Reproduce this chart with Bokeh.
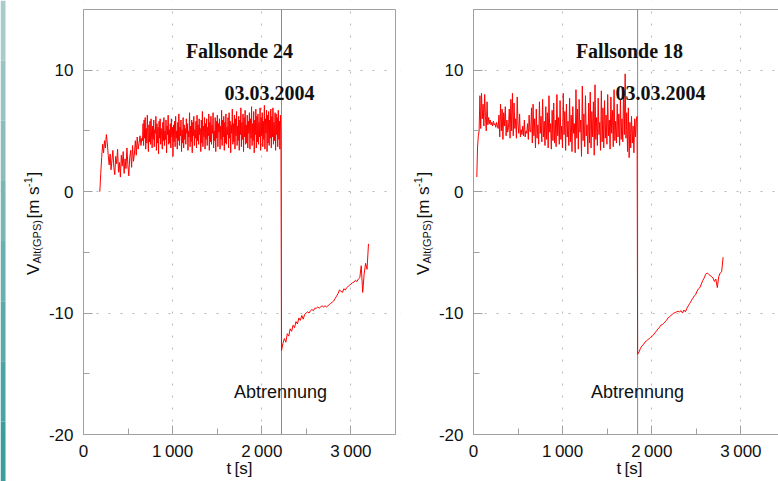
import numpy as np
from bokeh.plotting import figure
from bokeh.layouts import row
from bokeh.models import Label, Range1d, FixedTicker
from bokeh.core.properties import value
from bokeh.embed import file_html
from bokeh.resources import INLINE

# ---------------- data: Fallsonde 24 ----------------
f24_start_t = [183, 655]
f24_start_v = [0.0, 1.5, 2.8, 3.9, 3.2, 4.2, 3.6, 4.7, 4.0, 3.0, 2.2, 3.1, 1.8, 2.6,
               3.4, 2.0, 1.4, 2.9, 2.3, 3.5, 1.6, 2.4, 1.2, 3.0, 2.1, 3.3, 1.5, 2.7,
               1.9, 3.6, 2.2, 1.3, 2.8, 3.4, 2.0, 3.8, 2.5, 3.1, 4.2, 3.0, 4.5, 3.5,
               4.0, 4.6, 3.8, 4.4]
f24_band_t = [662, 2215]
f24_band_v = [
    4.2, 5.6, 3.8, 5.9, 4.4, 6.1, 3.5, 5.2, 4.0, 6.3, 4.6, 3.3, 5.5, 4.1, 5.8, 3.9, 6.0, 4.5, 3.6, 5.4,
    4.3, 5.9, 3.7, 5.1, 4.8, 6.2, 3.4, 5.6, 4.0, 5.3, 3.1, 5.8, 4.4, 6.0, 3.9, 5.2, 4.6, 3.5, 5.7, 4.2,
    6.1, 3.8, 5.0, 4.3, 5.9, 3.2, 5.4, 4.7, 6.3, 3.9, 5.1, 4.0, 5.6, 3.6, 6.0, 4.5, 5.3, 2.9, 5.5, 4.1,
    5.8, 3.7, 6.2, 4.4, 5.0, 3.5, 5.7, 4.2, 6.4, 3.8, 5.3, 4.6, 5.9, 3.3, 5.1, 4.0, 6.1, 3.6, 5.5, 4.3,
    5.2, 3.9, 6.0, 4.8, 5.6, 3.4, 5.0, 4.5, 6.5, 3.7, 5.4, 4.1, 5.9, 3.2, 5.7, 4.6, 6.2, 3.8, 5.1, 4.4,
    5.8, 3.6, 6.3, 4.2, 5.5, 3.9, 6.0, 4.7, 5.2, 3.3, 5.9, 4.0, 6.6, 3.7, 5.4, 4.5, 6.1, 3.5, 5.6, 4.3,
    6.0, 3.8, 5.3, 4.6, 6.4, 3.4, 5.7, 4.1, 6.2, 3.9, 5.5, 4.8, 6.5, 3.6, 5.0, 4.2, 6.1, 3.3, 5.8, 4.4,
    6.3, 3.7, 5.6, 4.9, 6.0, 3.5, 5.4, 4.3, 6.7, 3.8, 5.9, 4.5, 6.2, 3.4, 5.7, 4.0, 6.4, 3.9, 5.3, 4.7,
    6.1, 3.6, 6.5, 4.4, 5.8, 3.2, 5.5, 4.8, 6.8, 3.9, 5.6, 4.1, 6.3, 3.5, 6.0, 4.6, 6.6, 3.8, 5.4, 4.2,
    6.2, 3.4, 5.9, 4.7, 6.9, 3.7, 5.7, 4.3, 6.4, 3.3, 6.1, 4.5, 6.7, 3.9, 5.5, 4.0, 6.3, 3.6, 5.8, 4.8,
    6.5, 3.5, 6.0, 4.4, 7.0, 3.8, 5.6, 4.2, 6.6, 3.2, 5.9, 4.7, 6.8, 3.6, 6.2, 4.1, 6.4, 3.9, 5.7, 4.5,
    6.9, 3.4, 6.1, 4.6, 6.5, 3.7, 5.8, 4.3, 7.1, 3.5, 6.0, 4.8, 6.7, 3.3, 6.3, 4.0, 6.6, 3.8, 5.9, 4.4,
    6.8, 3.6, 6.2, 4.5, 6.9, 3.9, 5.7, 4.2, 6.5, 3.4, 6.4, 4.7, 6.1, 3.7, 6.7, 4.3, 5.8, 3.5, 6.3, 4.9]
f24_tail_t = [2221, 3197]
f24_tail_v = [-13.1, -12.5, -12.1, -12.4, -11.7, -11.9, -11.3, -11.5, -11.0, -11.2,
              -10.7, -10.9, -10.4, -10.6, -10.2, -10.5, -10.1, -10.0, -9.9, -10.0,
              -9.8, -9.7, -9.8, -9.6, -9.6, -9.5, -9.6, -9.5, -9.4, -9.5,
              -9.4, -9.5, -9.4, -9.3, -9.2, -9.1, -9.0, -8.8, -8.6, -8.4,
              -8.1, -8.2, -8.3, -8.0, -8.1, -7.9, -7.8, -7.7, -7.6, -7.5,
              -7.45, -7.3, -7.4, -7.2, -7.1, -6.1, -8.3, -6.8, -5.9, -6.4, -4.3]
f24_sep_t = 2221

# ---------------- data: Fallsonde 18 ----------------
f18_start_t = [37, 45, 54]
f18_start_v = [1.2, 3.6, 4.6]
f18_band_t = [63, 1835]
f18_band_v = [
    5.0, 7.9, 5.2, 8.1, 6.0, 7.2, 5.4, 8.0, 6.2, 5.0, 7.4, 5.5, 6.1, 5.6, 5.9, 5.5, 5.7, 5.4, 5.8, 5.5,
    5.6, 5.3, 5.7, 5.4, 5.2, 6.3, 4.5, 7.2, 5.0, 6.8, 4.3, 6.5, 5.4, 7.0, 4.6, 5.9, 4.9, 5.3, 6.8, 4.4,
    7.6, 5.0, 8.1, 4.6, 7.3, 5.2, 6.0, 4.4, 7.8, 5.5, 4.8, 6.4, 4.5, 5.1, 4.7, 5.4, 4.6, 5.9, 4.5, 5.0,
    4.8, 5.6, 4.3, 6.3, 5.0, 4.9, 6.9, 4.0, 7.2, 4.6, 6.0, 3.6, 6.8, 4.4, 5.5, 3.9, 7.4, 4.8, 6.2, 4.1,
    7.6, 4.5, 5.8, 3.8, 7.0, 4.3, 6.5, 3.6, 7.9, 4.9, 5.6, 3.5, 6.7, 4.2, 7.3, 4.0, 5.9, 3.7, 8.0, 4.6,
    6.1, 3.9, 7.5, 4.3, 5.4, 3.6, 8.1, 4.7, 6.6, 3.4, 7.2, 4.5, 5.8, 3.8, 7.7, 4.1, 6.3, 3.3, 7.0, 4.8,
    5.6, 3.2, 8.4, 4.4, 6.8, 3.5, 7.6, 4.9, 5.9, 2.9, 8.7, 4.2, 6.4, 3.7, 7.9, 4.6, 5.5, 3.1, 7.3, 4.0,
    8.2, 3.6, 6.6, 4.5, 7.4, 3.0, 8.8, 4.3, 6.1, 3.8, 7.7, 4.7, 5.7, 3.4, 8.3, 4.1, 6.9, 3.6, 7.5, 4.4,
    6.3, 3.9, 8.0, 4.6, 5.9, 3.5, 7.8, 4.8, 6.7, 3.7, 8.4, 4.2, 5.8, 4.0, 7.2, 4.5, 6.4, 3.8, 7.6, 4.3,
    6.0, 4.1, 8.6, 4.7, 9.7, 4.4, 6.5, 3.3, 6.9, 2.8, 5.7, 3.6, 6.2, 4.0, 5.4, 3.2, 6.0, 4.5, 5.9, 6.2]
f18_tail_t = [1841, 2800]
f18_tail_v = [-13.4, -13.2, -12.9, -12.7, -12.6, -12.4, -12.3, -12.2, -12.1, -12.0,
              -11.9, -11.8, -11.6, -11.5, -11.3, -11.2, -11.0, -10.95, -10.85, -10.7,
              -10.6, -10.4, -10.3, -10.2, -10.1, -10.0, -9.95, -9.9, -9.85, -9.9,
              -9.8, -10.0, -9.75, -9.9, -9.6, -9.4, -9.2, -9.0, -8.8, -8.6,
              -8.5, -8.2, -8.0, -7.9, -7.6, -7.3, -7.1, -6.8, -6.7, -6.8,
              -6.9, -7.0, -7.1, -7.4, -7.2, -7.9, -7.0, -6.7, -6.6, -5.4]
f18_sep_t = 1841

x_ticks = [0, 1000, 2000, 3000]
x_tick_labels = ["0", "1\u2009000", "2\u2009000", "3\u2009000"]
y_ticks = [-20, -10, 0, 10]
y_tick_labels = ["-20", "-10", "0", "10"]
X_AX = (0, 3500)      # axis extent of the time axis
Y_AX = (-20, 15)      # axis extent of the velocity axis

# y-axis label pieces: text, font size
ylabel_parts = [("V", 17), ("Alt(GPS)", 11), ("[m s", 17), ("-1", 11), ("]", 17)]

GREY = "#a0a0a0"
TXT = "#111111"
SANS = "Liberation Sans"
SERIF = "Liberation Serif"
H = 481
KX = 312 / 3500.0     # px per second
KY = 425 / 35.0       # px per m/s
TOP = 9               # px from canvas top to the top of the axes box


def series(start_t, start_v, band_t, band_v, tail_t, tail_v):
    if len(start_t) == 2:
        t1 = list(np.linspace(start_t[0], start_t[1], len(start_v)))
    else:
        t1 = list(start_t)
    t2 = list(np.linspace(band_t[0], band_t[1], len(band_v)))
    t3 = list(np.linspace(tail_t[0], tail_t[1], len(tail_v)))
    return [float(x) for x in t1 + t2 + t3], list(start_v) + list(band_v) + list(tail_v)


def make_panel(width, left_px, t, v, sep_t, title, date_x, abtr_x, stripe=False):
    xl = -left_px / KX
    xr = xl + width / KX
    yt = Y_AX[1] + TOP / KY
    yb = yt - H / KY
    p = figure(width=width, height=H, output_backend="svg", toolbar_location=None,
               x_range=Range1d(xl, xr), y_range=Range1d(yb, yt), min_border=0)
    p.outline_line_color = None

    # dotted grids
    p.xgrid.ticker = FixedTicker(ticks=x_ticks)
    p.ygrid.ticker = FixedTicker(ticks=y_ticks)
    for g in (p.xgrid[0], p.ygrid[0]):
        g.grid_line_color = "#b8b8b8"
        g.grid_line_dash = "2 10"
        g.grid_line_width = 1

    # separation marker and data
    p.segment(x0=[sep_t], x1=[sep_t], y0=[Y_AX[0]], y1=[Y_AX[1]],
              line_color="#8a8a8a", line_width=1)
    p.line(t, v, line_color="#ff0000", line_width=1)

    # white masks outside the axes box (drawn over anything outside it)
    right_edge = max(X_AX[1], xr)
    p.quad(left=[xl, xl, xl, X_AX[1]], right=[X_AX[0], xr, xr, right_edge],
           bottom=[yb, yb, Y_AX[1], yb], top=[yt, Y_AX[0], yt, yt],
           fill_color="white", line_color=None)
    if stripe:
        cols = ["#a9cbcb", "#9ac4c4", "#8bbdbd", "#7bb6b6", "#6cafaf",
                "#5ca9a9", "#4ca3a3", "#3d9d9d"]
        n = len(cols)
        hgt = (yt - yb) / n
        p.quad(left=xl, right=xl + 5 / KX,
               bottom=[yt - (i + 1) * hgt for i in range(n)],
               top=[yt - i * hgt for i in range(n)], fill_color=cols, line_color=None)

    # top and right edges of the axes box
    p.line(x=[X_AX[0], X_AX[1], X_AX[1]], y=[Y_AX[1], Y_AX[1], Y_AX[0]],
           line_color=GREY, line_width=1)

    # axes placed at the box edges
    for ax in (p.xaxis[0], p.yaxis[0]):
        ax.axis_line_color = GREY
        ax.major_tick_line_color = GREY
        ax.minor_tick_line_color = GREY
        ax.major_tick_in = 9
        ax.major_tick_out = 0
        ax.minor_tick_in = 6
        ax.minor_tick_out = 0
        ax.major_label_text_font = SANS
        ax.major_label_text_font_size = "17px"
        ax.major_label_text_color = TXT
    p.xaxis.fixed_location = Y_AX[0]
    p.xaxis.bounds = X_AX
    p.xaxis.ticker = FixedTicker(ticks=x_ticks, minor_ticks=[500, 1500, 2500, 3500])
    p.xaxis.major_label_overrides = {k: s for k, s in zip(x_ticks, x_tick_labels)}
    p.xaxis.major_label_standoff = 7
    p.yaxis.fixed_location = X_AX[0]
    p.yaxis.bounds = Y_AX
    p.yaxis.ticker = FixedTicker(ticks=y_ticks, minor_ticks=[-15, -5, 5, 15])
    p.yaxis.major_label_overrides = {k: s for k, s in zip(y_ticks, y_tick_labels)}
    p.yaxis.major_label_standoff = 10

    p.add_layout(Label(x=1750, y=11.62, text=title, text_font=SERIF, text_font_style="bold",
                       text_font_size="20px", text_align="center", text_baseline="middle",
                       text_color=TXT))
    p.add_layout(Label(x=date_x, y=8.16, text="03.03.2004", text_font=SERIF,
                       text_font_style="bold", text_font_size="20px", text_align="center",
                       text_baseline="middle", text_color=TXT))
    p.add_layout(Label(x=abtr_x, y=-16.46, text="Abtrennung", text_font=SANS,
                       text_font_size="18px", text_align="center", text_baseline="middle",
                       text_color=TXT))
    p.add_layout(Label(x=1750, y=-22.8, text="t\u2009[s]", text_font=SANS,
                       text_font_size="17px", text_align="center", text_baseline="middle",
                       text_color=TXT))

    # rotated y label assembled from pieces (offsets in px from the axis / from canvas top)
    offs = [(-50, 274.5), (-47, 263.0), (-50, 218.0), (-56, 186.5), (-50, 176.0)]
    for (txt, fs), (dx, sy) in zip(ylabel_parts, offs):
        p.text(x=[dx / KX], y=[yt - sy / KY], text=[txt], angle=np.pi / 2,
               text_font=value(SANS), text_font_size=f"{fs}px",
               text_align="left", text_baseline="alphabetic", text_color=TXT)
    return p


t24, v24 = series(f24_start_t, f24_start_v, f24_band_t, f24_band_v, f24_tail_t, f24_tail_v)
t18, v18 = series(f18_start_t, f18_start_v, f18_band_t, f18_band_v, f18_tail_t, f18_tail_v)

p1 = make_panel(400, 83, t24, v24, f24_sep_t, "Fallsonde 24", 2087, 2210, stripe=True)
p2 = make_panel(378, 73, t18, v18, f18_sep_t, "Fallsonde 18", 2098, 1840)

layout = row(p1, p2)
open("out.html", "w").write(file_html(layout, INLINE))
